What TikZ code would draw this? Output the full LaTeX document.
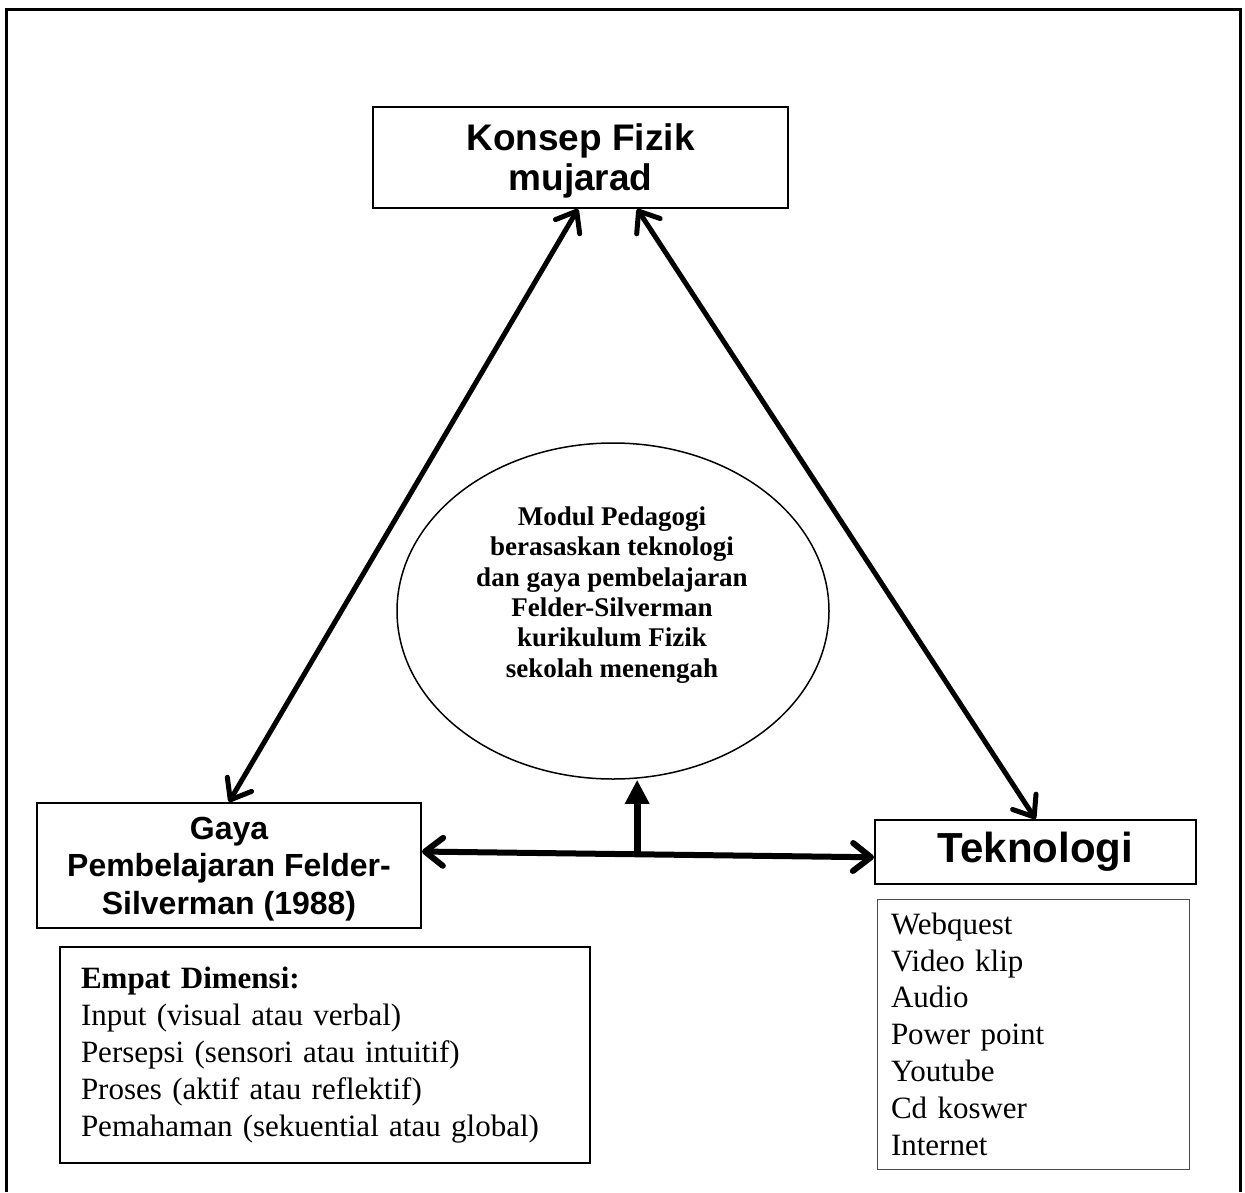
\documentclass[tikz,border=0pt]{standalone}
\usepackage{fontspec}
\setmainfont{Liberation Serif}
\newfontfamily\arialfont{Liberation Sans}
\usetikzlibrary{arrows.meta,calc,shapes.geometric}
\begin{document}
\begin{tikzpicture}[x=1pt,y=-1pt,
  boxA/.style={draw, line width=2pt, rectangle, inner sep=0pt, align=center},
  biarrow/.style={line width=5pt, {Straight Barb[length=18pt,width=28pt,round]}-{Straight Barb[length=18pt,width=28pt,round]}},
  uparrow/.style={line width=7pt, -{Triangle[length=24pt,width=23pt]}},
]
\useasboundingbox (0,0) rectangle (1245,1192);
\draw[line width=3pt] (6,1192) -- (6,9) -- (1240,9) -- (1240,1192);

\node[boxA, minimum width=415pt, minimum height=101pt, text depth=0pt,
      font=\arialfont\bfseries\fontsize{37}{40}\selectfont] (konsep) at (580.5,157.5) {Konsep Fizik\\mujarad};

\node[draw, ellipse, line width=1.5pt, minimum width=432pt, minimum height=336pt, inner sep=0pt] (modul) at (613,611) {};
\node[align=center, inner sep=0pt, font=\bfseries\fontsize{27}{30.4}\selectfont] (modtext) at (612,595)
  {Modul Pedagogi\\berasaskan teknologi\\dan gaya pembelajaran\\Felder-Silverman\\kurikulum Fizik\\sekolah menengah};

\node[boxA, minimum width=384pt, minimum height=125pt, text depth=0pt,
      font=\arialfont\bfseries\fontsize{32}{37.5}\selectfont] (gaya) at (229,865.5)
  {Gaya\\Pembelajaran Felder-\\Silverman (1988)};

\node[boxA, minimum width=321pt, minimum height=64pt,
      font=\arialfont\bfseries\fontsize{42}{48}\selectfont] (tekno) at (1035.5,852) {Teknologi};

\node[draw, line width=2pt, rectangle, minimum height=216pt, text width=488pt, inner xsep=21pt, inner ysep=0pt,
      align=left, font=\fontsize{31}{36.8}\selectfont] (empat) at (325,1055)
  {\textbf{Empat Dimensi:}\\Input (visual atau verbal)\\Persepsi (sensori atau intuitif)\\Proses (aktif atau reflektif)\\Pemahaman (sekuential atau global)};

\node[draw=black!70, line width=1pt, rectangle, minimum height=270pt, text width=284pt, inner xsep=14pt, inner ysep=0pt,
      align=left, font=\fontsize{31}{36.8}\selectfont] (alat) at (1033,1034)
  {Webquest\\Video klip\\Audio\\Power point\\Youtube\\Cd koswer\\Internet};

% connectors
\draw[biarrow] ($(konsep.south west)!0.494!(konsep.south east)$) -- (gaya.north);
\draw[biarrow] ($(konsep.south west)!0.636!(konsep.south east)$) -- (tekno.north);
\coordinate (hl) at ($(gaya.north east)!0.39!(gaya.south east)$);
\coordinate (hr) at ($(tekno.north west)!0.58!(tekno.south west)$);
\draw[biarrow, line width=6pt] (hl) -- (hr);
\coordinate (base) at ($(hl)!0.476!(hr)$);
\draw[uparrow] (base) -- (base |- modul.south);
\end{tikzpicture}
\end{document}
